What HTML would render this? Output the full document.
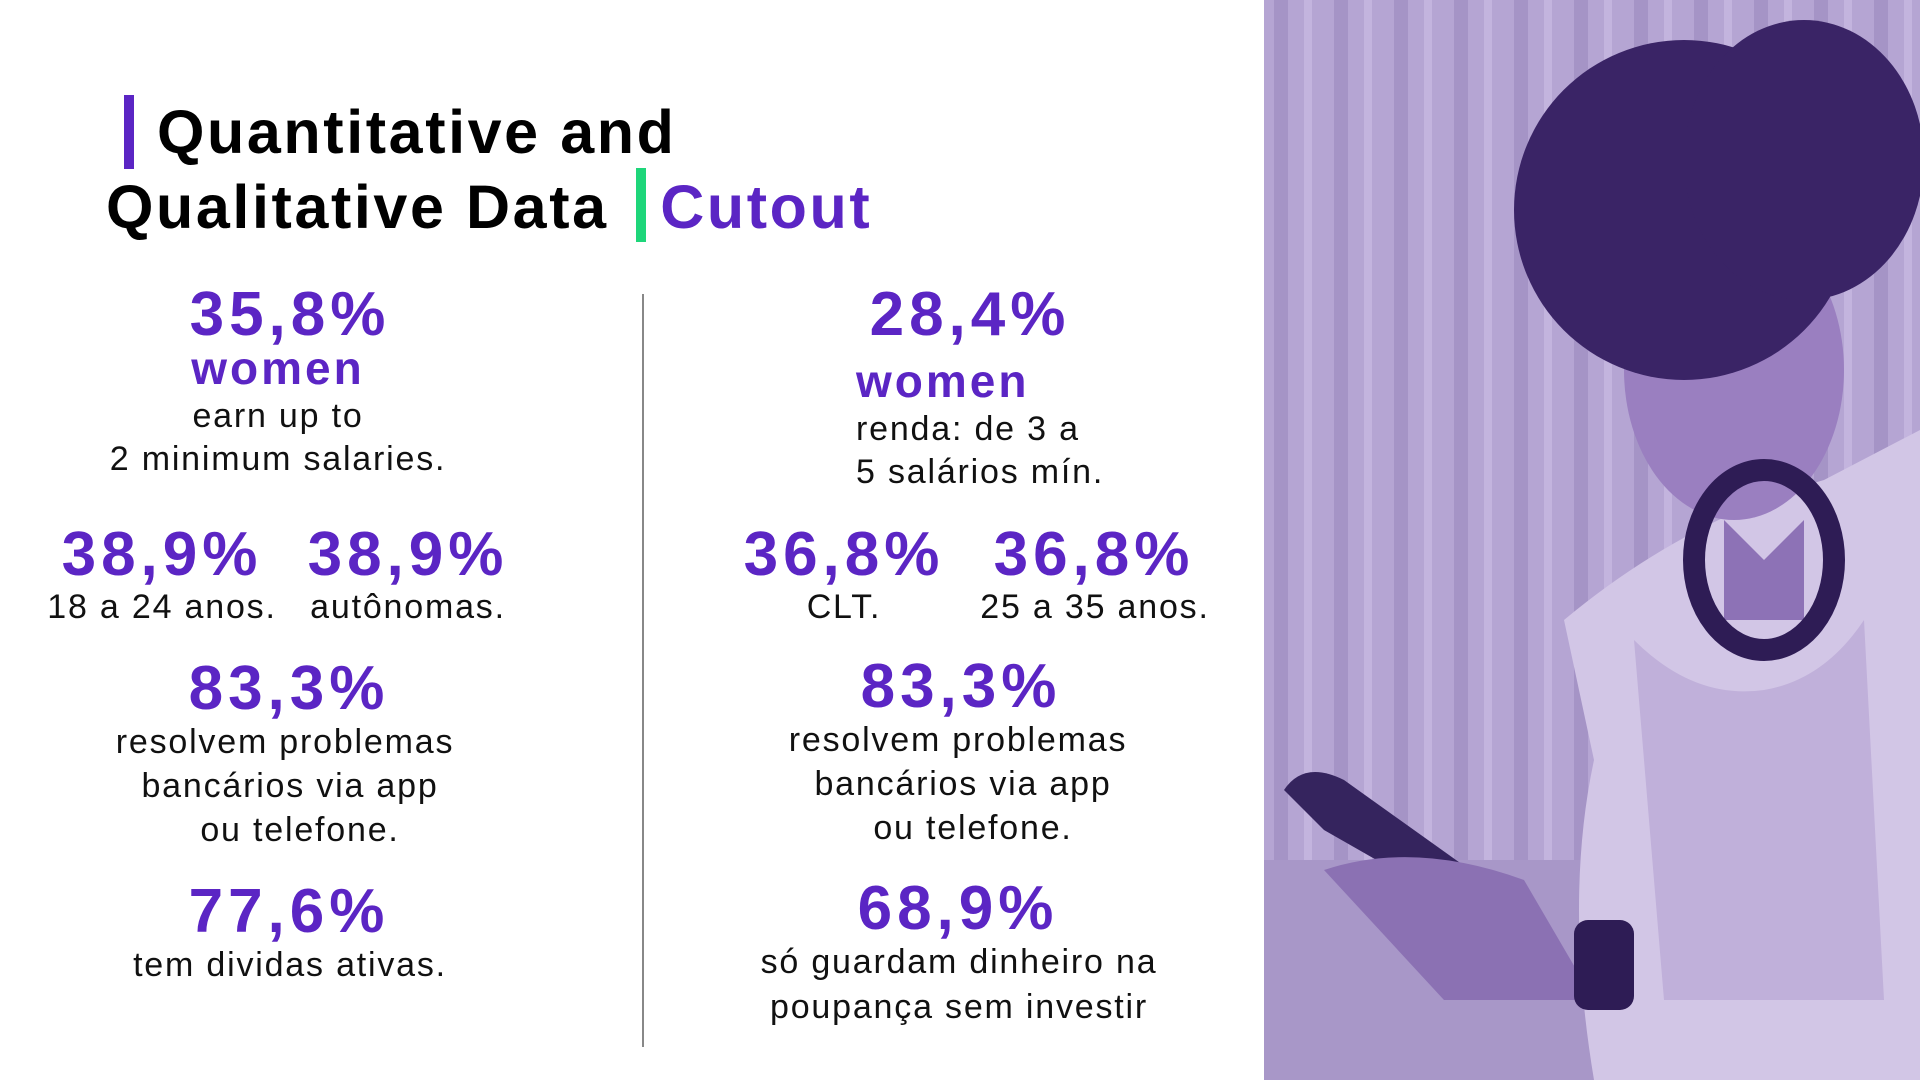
<!DOCTYPE html>
<html><head><meta charset="utf-8"><style>
body{margin:0;width:1920px;height:1080px;position:relative;overflow:hidden;background:#fff;font-family:"Liberation Sans",sans-serif}
.t{position:absolute;transform:translate(-50%,-50%);white-space:nowrap;line-height:1}
.p{color:#5b25c4;font-weight:bold;font-size:62px;letter-spacing:5px}
.w{color:#5b25c4;font-weight:bold;font-size:46px;letter-spacing:3px}
.b{color:#111;font-size:34px;letter-spacing:1.8px}
.l{position:absolute;white-space:nowrap;line-height:1;transform:translateY(-50%)}
</style></head><body>
<div style="position:absolute;left:124px;top:95px;width:10px;height:74px;background:#5b25c4"></div>
<div style="position:absolute;left:157px;top:102px;font-size:61px;font-weight:bold;color:#000;line-height:1;letter-spacing:2.6px;white-space:nowrap">Quantitative and</div>
<div style="position:absolute;left:106px;top:168px;font-size:61px;font-weight:bold;color:#000;line-height:1;white-space:nowrap;letter-spacing:2.6px">Qualitative Data <span style="display:inline-block;width:10px;height:74px;background:#1ed67a;vertical-align:-14px;margin:0 14px 0 8px"></span><span style="color:#5b25c4">Cutout</span></div>
<div style="position:absolute;left:642px;top:294px;width:2px;height:753px;background:#888"></div>

<div class="t p" style="left:290px;top:315px">35,8%</div>
<div class="t w" style="left:278px;top:368px">women</div>
<div class="t b" style="left:278px;top:416px">earn up to</div>
<div class="t b" style="left:278px;top:459px">2 minimum salaries.</div>
<div class="t p" style="left:162px;top:555px">38,9%</div>
<div class="t b" style="left:162px;top:607px">18 a 24 anos.</div>
<div class="t p" style="left:408px;top:555px">38,9%</div>
<div class="t b" style="left:408px;top:607px">autônomas.</div>
<div class="t p" style="left:289px;top:689px">83,3%</div>
<div class="t b" style="left:285px;top:742px">resolvem problemas</div>
<div class="t b" style="left:290px;top:786px">bancários via app</div>
<div class="t b" style="left:300px;top:830px">ou telefone.</div>
<div class="t p" style="left:289px;top:912px">77,6%</div>
<div class="t b" style="left:290px;top:965px">tem dividas ativas.</div>

<div class="t p" style="left:970px;top:315px">28,4%</div>
<div class="l w" style="left:856px;top:381px">women</div>
<div class="l b" style="left:856px;top:429px">renda: de 3 a</div>
<div class="l b" style="left:856px;top:472px">5 salários mín.</div>
<div class="t p" style="left:844px;top:555px">36,8%</div>
<div class="t b" style="left:844px;top:607px">CLT.</div>
<div class="t p" style="left:1094px;top:555px">36,8%</div>
<div class="t b" style="left:1095px;top:607px">25 a 35 anos.</div>
<div class="t p" style="left:961px;top:687px">83,3%</div>
<div class="t b" style="left:958px;top:740px">resolvem problemas</div>
<div class="t b" style="left:963px;top:784px">bancários via app</div>
<div class="t b" style="left:973px;top:828px">ou telefone.</div>
<div class="t p" style="left:958px;top:909px">68,9%</div>
<div class="t b" style="left:959px;top:962px">só guardam dinheiro na</div>
<div class="t b" style="left:959px;top:1007px">poupança sem investir</div>

<svg style="position:absolute;left:1264px;top:0" width="656" height="1080">
<defs><pattern id="st" width="60" height="1080" patternUnits="userSpaceOnUse"><rect width="60" height="1080" fill="#b5a5d3"/><rect x="10" width="14" height="1080" fill="#a594c6"/><rect x="40" width="8" height="1080" fill="#c3b4de"/></pattern></defs>
<rect width="656" height="1080" fill="url(#st)"/>
<rect y="860" width="656" height="220" fill="#a897c8"/>
<path d="M300 620 Q420 520 560 480 L656 430 L656 1080 L330 1080 Q300 900 330 760 Z" fill="#d2c6e6"/>
<path d="M370 640 Q430 700 500 690 Q560 680 600 620 L620 1000 L400 1000 Z" fill="#c0b0da"/>
<ellipse cx="470" cy="370" rx="110" ry="150" fill="#9a7fc0"/>
<path d="M460 520 L500 560 L540 520 L540 620 L460 620 Z" fill="#8d72b6"/>
<ellipse cx="420" cy="210" rx="170" ry="170" fill="#3a2466"/>
<ellipse cx="540" cy="160" rx="120" ry="140" fill="#3a2466"/>
<ellipse cx="500" cy="560" rx="70" ry="90" fill="none" stroke="#2e1c55" stroke-width="22"/>
<path d="M20 790 Q40 760 80 780 L220 880 Q230 900 200 910 L60 830 Z" fill="#35245e"/>
<path d="M60 870 Q150 840 260 880 L330 1000 L180 1000 Z" fill="#8b71b3"/>
<rect x="310" y="920" width="60" height="90" rx="14" fill="#2e1c55"/>
</svg>
</body></html>
